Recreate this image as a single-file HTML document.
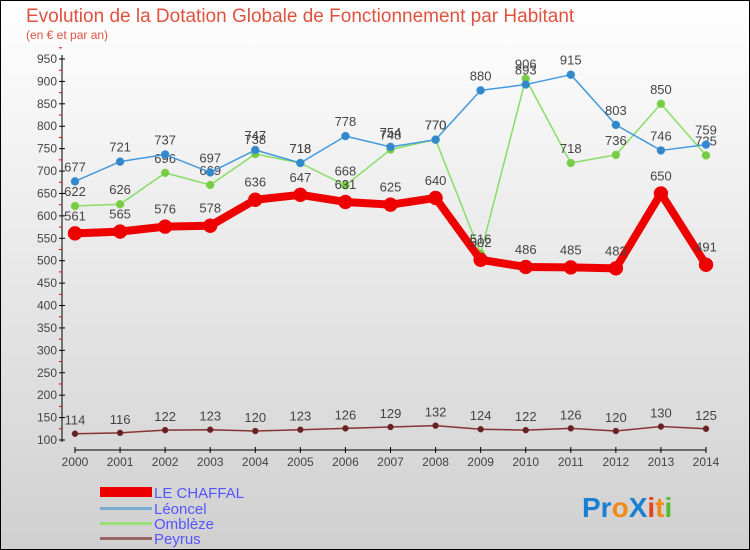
<!DOCTYPE html>
<html><head><meta charset="utf-8"><style>
body{margin:0;}
#wrap{width:750px;height:550px;position:relative;font-family:"Liberation Sans",sans-serif;}
svg{display:block}
</style></head><body>
<div id="wrap">
<svg id="c" width="750" height="550" xmlns="http://www.w3.org/2000/svg">
<defs><linearGradient id="bg" x1="0" y1="0" x2="0" y2="1"><stop offset="0" stop-color="#ffffff"/><stop offset="1" stop-color="#d0d0d0"/></linearGradient></defs>
<rect x="0.5" y="0.5" width="749" height="549" fill="url(#bg)" stroke="#000"/>
<text x="26" y="22" font-size="19" fill="#e0523f">Evolution de la Dotation Globale de Fonctionnement par Habitant</text>
<text x="26" y="39" font-size="12" fill="#e0523f">(en € et par an)</text>
<g id="axes"></g><g id="series"></g>
<g>
<rect x="100" y="487" width="52" height="10" fill="#ee0000"/>
<text x="154" y="498" font-size="15" fill="#5555ff">LE CHAFFAL</text>
<rect x="100" y="507" width="52" height="3" fill="#7aaed0"/>
<text x="154" y="514" font-size="15" fill="#5555ff">Léoncel</text>
<rect x="100" y="522" width="52" height="3" fill="#99dd77"/>
<text x="154" y="529" font-size="15" fill="#5555ff">Omblèze</text>
<rect x="100" y="537" width="52" height="3" fill="#996666"/>
<text x="154" y="544" font-size="15" fill="#5555ff">Peyrus</text>
</g>
<text x="582" y="517" font-size="28" font-weight="bold"><tspan fill="#1a7fd0">Pr</tspan><tspan fill="#f08a1c">o</tspan><tspan fill="#1a7fd0">X</tspan><tspan fill="#e84020">i</tspan><tspan fill="#f08a1c">t</tspan><tspan fill="#55bb33">i</tspan></text>
</svg></div>
<script>
const years=[2000,2001,2002,2003,2004,2005,2006,2007,2008,2009,2010,2011,2012,2013,2014];
const yTicks=[100,150,200,250,300,350,400,450,500,550,600,650,700,750,800,850,900,950];
const chaffal=[561,565,576,578,636,647,631,625,640,502,486,485,483,650,491];
const leoncel=[677,721,737,697,747,718,778,754,770,880,893,915,803,746,759];
const ombleze=[622,626,696,669,738,718,668,748,770,516,906,718,736,850,735];
const peyrus=[114,116,122,123,120,123,126,129,132,124,122,126,120,130,125];
const NS="http://www.w3.org/2000/svg";
const X=i=>75+i*(706-75)/(years.length-1);
const Y=v=>440-(v-100)*(440-59)/850;
function mk(t,a,p){const e=document.createElementNS(NS,t);for(const k in a)e.setAttribute(k,a[k]);p.appendChild(e);return e;}
const ax=document.getElementById('axes'),sg=document.getElementById('series');
const yl=mk('line',{x1:62,y1:55,x2:62,y2:442,stroke:'#000'},ax);


yTicks.forEach(v=>{
 mk('line',{x1:59,x2:65,y1:Y(v),y2:Y(v),stroke:'#000'},ax);
 mk('line',{x1:59,x2:62,y1:Y(v+25),y2:Y(v+25),stroke:'#e00'},ax);
 const t=mk('text',{x:57,y:Y(v)+4,'font-size':12,fill:'#444','text-anchor':'end'},ax);t.textContent=v;
 
 
});
const xl=mk('line',{x1:75,y1:450,x2:706,y2:450,stroke:'#000'},ax);


years.forEach((y,i)=>{
 mk('line',{x1:X(i),x2:X(i),y1:447,y2:453,stroke:'#000'},ax);
 const t=mk('text',{x:X(i),y:466,'font-size':12,fill:'#444','text-anchor':'middle'},ax);t.textContent=y;
 
 
});
function series(d,name,col,w,r,dot){
 const g=mk('g',{},sg);
 
 
 mk('polyline',{points:d.map((v,i)=>X(i)+','+Y(v)).join(' '),fill:'none',stroke:col,'stroke-width':w,'stroke-linejoin':'round'},g);
 d.forEach((v,i)=>{
  const c=mk('circle',{cx:X(i),cy:Y(v),r:r,fill:dot,stroke:col,'stroke-width':0.5},g);
  
  
  const t=mk('text',{x:X(i),y:Y(v)-(r+6),'font-size':13,fill:'#444','text-anchor':'middle'},g);t.textContent=v;
  
  
 });
}
series(peyrus,'peyrus','#883333',1.5,3,'#662222');
series(ombleze,'ombleze','#88dd66',1.5,4,'#77cc44');
series(leoncel,'leoncel','#4499dd',1.5,4,'#3388cc');
series(chaffal,'le-chaffal','#ee0000',8,7,'#ee0000');
</script>
</body></html>
